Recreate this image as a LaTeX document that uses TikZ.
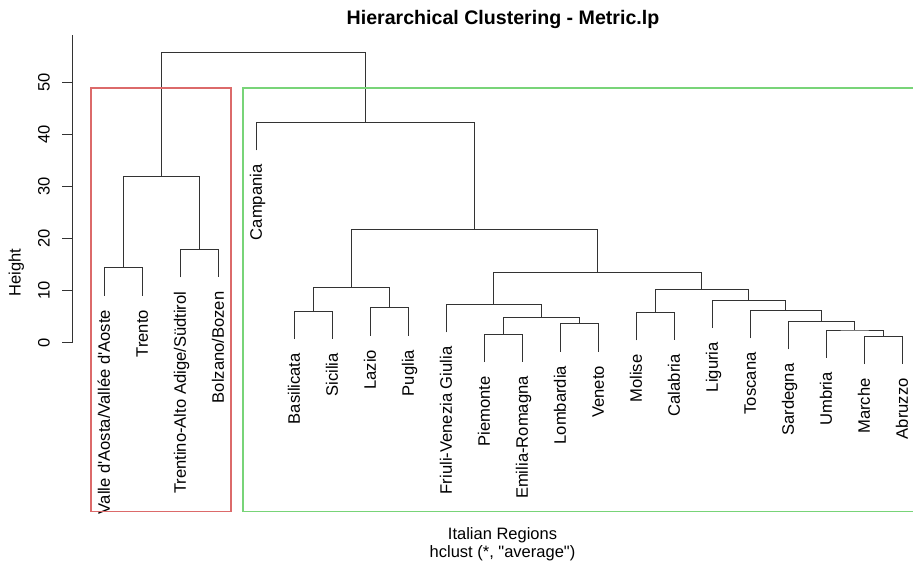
\documentclass[tikz,border=0pt]{standalone}
\usepackage{fontspec}
\setmainfont{Liberation Sans}
\definecolor{boxred}{HTML}{DC6A6A}
\definecolor{boxgreen}{HTML}{78D478}
\newcommand{\hang}{5.37}
\tikzset{
  branch/.style={line width=0.9pt, draw=black!80},
  leaflabel/.style={rotate=90, anchor=east, inner xsep=14pt, inner ysep=0pt,
    text height=11.6pt, text depth=0pt, font=\fontsize{16.6}{19}\selectfont},
  ticklabel/.style={rotate=90, anchor=base, inner sep=0pt, font=\fontsize{16.5}{19}\selectfont},
  plainlabel/.style={anchor=base, inner sep=0pt, font=\fontsize{16.5}{19}\selectfont},
  clusterbox/.style={line width=1.2pt}
}
\begin{document}
\begin{tikzpicture}[x=1pt, y=5.214pt]
				\useasboundingbox (0,-42.83) rectangle (913,65.73);
				\node[plainlabel, font=\fontsize{19.6}{23}\selectfont\bfseries] (title) at (503,61.03) {Hierarchical Clustering - Metric.lp};
				\node[plainlabel] (xlab) at (502.5,-37.74) {Italian Regions};
				\node[plainlabel] (sublab) at (502.5,-41.16) {hclust (*, \textquotedbl average\textquotedbl)};
				\node[plainlabel, rotate=90] (ylab) at (20.5,13.46) {Height};
				
				\coordinate (ybot) at (72,0);
				\coordinate (ytop) at (72,59);
				\draw[branch] (ybot) -- (ytop);
				\foreach \v in {0,10,...,50} {
					\coordinate (tick\v) at (62,\v);
					\draw[branch] (tick\v) -- (ybot |- tick\v);
					\node[ticklabel] (ticklab\v) at (49.5,\v) {\v};
				}
				
				\node[leaflabel] (valle) at (104,{14.38-\hang}) {Valle d\textquotesingle Aosta/Vallée d\textquotesingle Aoste};
				\node[leaflabel] (trento) at (142,{14.38-\hang}) {Trento};
				\node[leaflabel] (trentino) at (180,{17.91-\hang}) {Trentino-Alto Adige/Südtirol};
				\node[leaflabel] (bolzano) at (218,{17.91-\hang}) {Bolzano/Bozen};
				\node[leaflabel] (campania) at (256,{42.27-\hang}) {Campania};
				\node[leaflabel] (basilicata) at (294,{6.08-\hang}) {Basilicata};
				\node[leaflabel] (sicilia) at (332,{6.08-\hang}) {Sicilia};
				\node[leaflabel] (lazio) at (370,{6.71-\hang}) {Lazio};
				\node[leaflabel] (puglia) at (408,{6.71-\hang}) {Puglia};
				\node[leaflabel] (friuli) at (446,{7.36-\hang}) {Friuli-Venezia Giulia};
				\node[leaflabel] (piemonte) at (484,{1.67-\hang}) {Piemonte};
				\node[leaflabel] (emilia) at (522,{1.67-\hang}) {Emilia-Romagna};
				\node[leaflabel] (lombardia) at (560,{3.64-\hang}) {Lombardia};
				\node[leaflabel] (veneto) at (598,{3.64-\hang}) {Veneto};
				\node[leaflabel] (molise) at (636,{5.83-\hang}) {Molise};
				\node[leaflabel] (calabria) at (674,{5.83-\hang}) {Calabria};
				\node[leaflabel] (liguria) at (712,{8.19-\hang}) {Liguria};
				\node[leaflabel] (toscana) at (750,{6.21-\hang}) {Toscana};
				\node[leaflabel] (sardegna) at (788,{4.10-\hang}) {Sardegna};
				\node[leaflabel] (umbria) at (826,{2.44-\hang}) {Umbria};
				\node[leaflabel] (marche) at (864,{1.28-\hang}) {Marche};
				\node[leaflabel] (abruzzo) at (902,{1.28-\hang}) {Abruzzo};
				
				\coordinate (vt) at (123,14.38);
				\coordinate (tb) at (199,17.91);
				\coordinate (north) at (161,31.84);
				\coordinate (bs) at (313,6.08);
				\coordinate (lp) at (389,6.71);
				\coordinate (south) at (351,10.55);
				\coordinate (pe) at (503,1.67);
				\coordinate (lv) at (579,3.64);
				\coordinate (pelv) at (541,4.93);
				\coordinate (fpelv) at (493.5,7.36);
				\coordinate (mc) at (655,5.83);
				\coordinate (ma) at (883,1.28);
				\coordinate (uma) at (854.5,2.44);
				\coordinate (suma) at (821.25,4.10);
				\coordinate (tsuma) at (785.6,6.21);
				\coordinate (ltsuma) at (748.8,8.19);
				\coordinate (centre) at (701.9,10.24);
				\coordinate (northeast) at (597.7,13.50);
				\coordinate (mainland) at (474.3,21.75);
				\coordinate (rest) at (365.2,42.27);
				\coordinate (root) at (263.1,55.62);
				
				\draw[branch] (valle.east) |- (vt) -| (trento.east);
				\draw[branch] (trentino.east) |- (tb) -| (bolzano.east);
				\draw[branch] (vt) |- (north) -| (tb);
				\draw[branch] (basilicata.east) |- (bs) -| (sicilia.east);
				\draw[branch] (lazio.east) |- (lp) -| (puglia.east);
				\draw[branch] (bs) |- (south) -| (lp);
				\draw[branch] (piemonte.east) |- (pe) -| (emilia.east);
				\draw[branch] (lombardia.east) |- (lv) -| (veneto.east);
				\draw[branch] (pe) |- (pelv) -| (lv);
				\draw[branch] (friuli.east) |- (fpelv) -| (pelv);
				\draw[branch] (molise.east) |- (mc) -| (calabria.east);
				\draw[branch] (marche.east) |- (ma) -| (abruzzo.east);
				\draw[branch] (umbria.east) |- (uma) -| (ma);
				\draw[branch] (sardegna.east) |- (suma) -| (uma);
				\draw[branch] (toscana.east) |- (tsuma) -| (suma);
				\draw[branch] (liguria.east) |- (ltsuma) -| (tsuma);
				\draw[branch] (mc) |- (centre) -| (ltsuma);
				\draw[branch] (fpelv) |- (northeast) -| (centre);
				\draw[branch] (south) |- (mainland) -| (northeast);
				\draw[branch] (campania.east) |- (rest) -| (mainland);
				\draw[branch] (north) |- (root) -| (rest);
				
				\draw[clusterbox, boxred] (91,48.85) rectangle (231,-32.36);
				\draw[clusterbox, boxgreen] (914,48.85) -| (243,-32.36) -- (914,-32.36);
			\end{tikzpicture}
\end{document}
